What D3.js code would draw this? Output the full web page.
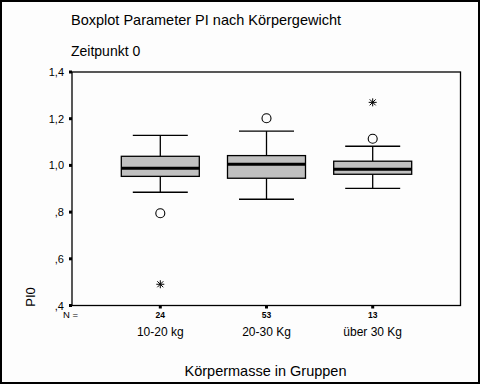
<!DOCTYPE html>
<html><head><meta charset="utf-8">
<script src="https://cdn.jsdelivr.net/npm/d3@7"></script>
<style>body{margin:0;background:#fff}svg{display:block}text{font-family:"Liberation Sans",Arial,sans-serif;fill:#000}</style>
</head><body><svg id="c" width="481" height="385"></svg>
<script>
const categories = ["10-20 kg", "20-30 Kg", "über 30 Kg"];
const counts = [24, 53, 13];
const whiskerLow = [0.885, 0.855, 0.902];
const q1 = [0.953, 0.945, 0.962];
const median = [0.988, 1.005, 0.983];
const q3 = [1.039, 1.042, 1.018];
const whiskerHigh = [1.129, 1.147, 1.082];
const outliers = [[0.795], [1.202], [1.114]];
const extremes = [[0.491], [], [1.27]];
const yTicks = [0.4, 0.6, 0.8, 1.0, 1.2, 1.4];
const yTickLabels = [",4", ",6", ",8", "1,0", "1,2", "1,4"];

const svg = d3.select("#c");
svg.append("rect").attr("x",1).attr("y",1).attr("width",478).attr("height",382)
  .attr("fill","#fdfdfd").attr("stroke","#000").attr("stroke-width",2);

const L=72, R=460.5, T=72, B=305.5;
const y = d3.scaleLinear().domain([0.4,1.4]).range([B,T]);
const x = d3.scalePoint().domain(categories).range([160.3, 372.7]);

svg.append("text").attr("x",71).attr("y",25).attr("font-size",14.5).text("Boxplot Parameter PI nach Körpergewicht");
svg.append("text").attr("x",71).attr("y",56).attr("font-size",14).text("Zeitpunkt 0");

svg.append("rect").attr("x",L).attr("y",T).attr("width",R-L).attr("height",B-T)
  .attr("fill","none").attr("stroke","#000").attr("stroke-width",1.3);

// y axis
const yAxis = d3.axisLeft(y).tickValues(yTicks).tickFormat((d,i)=>yTickLabels[i]).tickSize(0).tickPadding(8);
const ga = svg.append("g").attr("transform",`translate(${L},0)`).call(yAxis);
ga.select(".domain").remove();
ga.selectAll("text").attr("font-size",11).attr("font-family","Liberation Sans, Arial, sans-serif");
yTicks.forEach(v=>svg.append("rect").attr("x",L-3).attr("y",y(v)-1.5).attr("width",3).attr("height",3).attr("fill","#000"));

// x axis
categories.forEach((c,i)=>{
  svg.append("rect").attr("x",x(c)-1.5).attr("y",B).attr("width",3).attr("height",3).attr("fill","#000");
  svg.append("text").attr("x",x(c)).attr("y",318).attr("text-anchor","middle").attr("font-size",8.5).attr("font-weight","bold").text(counts[i]);
  svg.append("text").attr("x",x(c)).attr("y",336).attr("text-anchor","middle").attr("font-size",12).text(c);
});
svg.append("text").attr("x",70.5).attr("y",318).attr("font-size",9.5).attr("text-anchor","middle").text("N =");
svg.append("text").attr("x",265.5).attr("y",376).attr("text-anchor","middle").attr("font-size",14.5).text("Körpermasse in Gruppen");
svg.append("text").attr("transform","translate(35,297) rotate(-90)").attr("text-anchor","middle").attr("font-size",13).text("PI0");

const bw = 78, cw = 55;
categories.forEach((c,i)=>{
  const cx = x(c);
  const g = svg.append("g").attr("stroke","#000");
  g.append("line").attr("x1",cx).attr("x2",cx).attr("y1",y(whiskerHigh[i])).attr("y2",y(q3[i])).attr("stroke-width",1.3);
  g.append("line").attr("x1",cx).attr("x2",cx).attr("y1",y(q1[i])).attr("y2",y(whiskerLow[i])).attr("stroke-width",1.3);
  g.append("line").attr("x1",cx-cw/2).attr("x2",cx+cw/2).attr("y1",y(whiskerHigh[i])).attr("y2",y(whiskerHigh[i])).attr("stroke-width",1.3);
  g.append("line").attr("x1",cx-cw/2).attr("x2",cx+cw/2).attr("y1",y(whiskerLow[i])).attr("y2",y(whiskerLow[i])).attr("stroke-width",1.3);
  g.append("rect").attr("x",cx-bw/2).attr("y",y(q3[i])).attr("width",bw).attr("height",y(q1[i])-y(q3[i]))
    .attr("fill","#c0c0c0").attr("stroke-width",1.3);
  g.append("line").attr("x1",cx-bw/2).attr("x2",cx+bw/2).attr("y1",y(median[i])).attr("y2",y(median[i])).attr("stroke-width",3);
  outliers[i].forEach(v=>g.append("circle").attr("cx",cx).attr("cy",y(v)).attr("r",4.5).attr("fill","none").attr("stroke-width",1.1));
  extremes[i].forEach(v=>{
    const yy=y(v);
    g.append("line").attr("x1",cx-4).attr("x2",cx+4).attr("y1",yy).attr("y2",yy).attr("stroke-width",1);
    g.append("line").attr("x1",cx).attr("x2",cx).attr("y1",yy-4).attr("y2",yy+4).attr("stroke-width",1);
    g.append("line").attr("x1",cx-3).attr("x2",cx+3).attr("y1",yy-3).attr("y2",yy+3).attr("stroke-width",1);
    g.append("line").attr("x1",cx-3).attr("x2",cx+3).attr("y1",yy+3).attr("y2",yy-3).attr("stroke-width",1);
  });
});
</script></body></html>
